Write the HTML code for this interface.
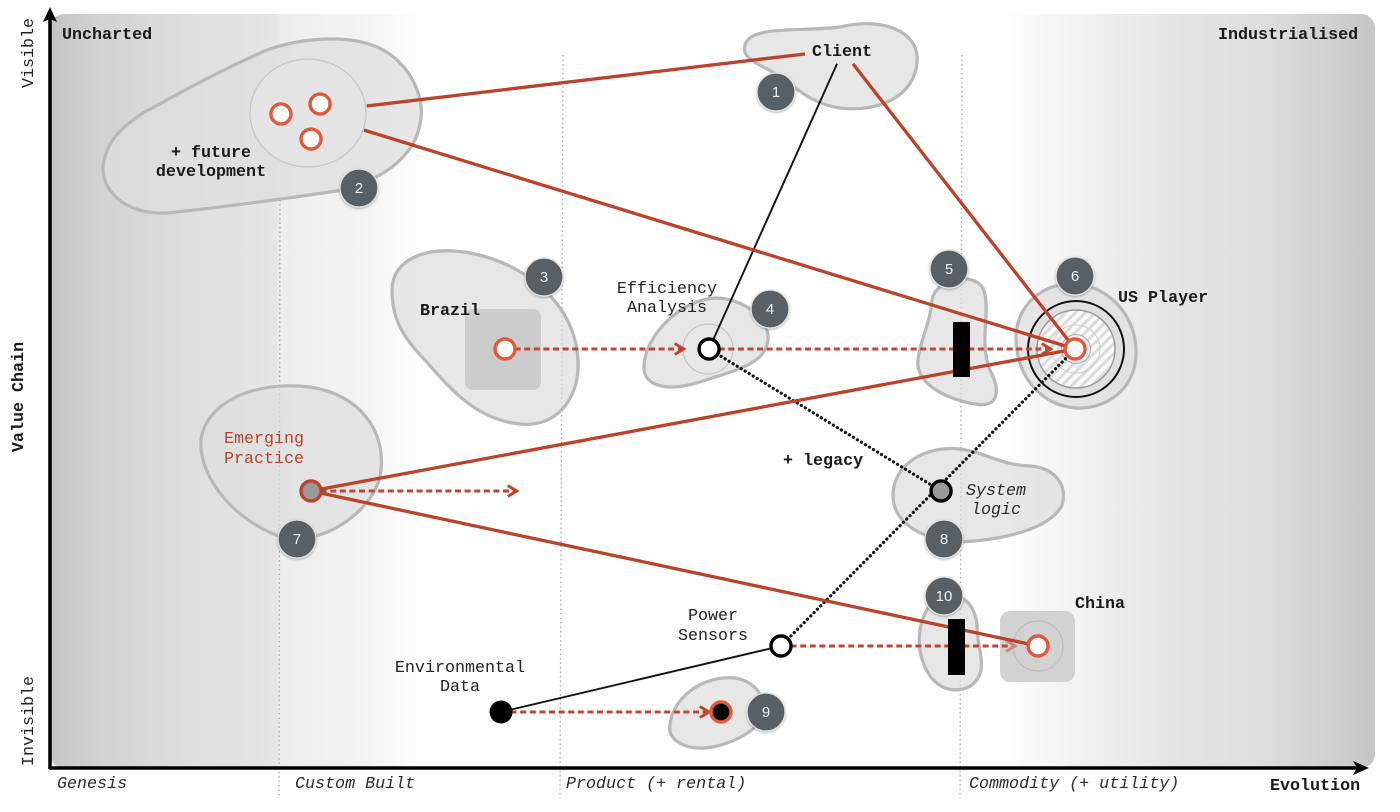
<!DOCTYPE html>
<html lang="en">
<head>
<meta charset="utf-8">
<title>Value chain map</title>
<style>
html,body{margin:0;padding:0;background:#fff;width:1400px;height:812px;overflow:hidden}
svg{display:block;filter:blur(.3px)}
text{font-family:"Liberation Mono",monospace;font-size:16.7px;fill:#222}
.b{font-weight:bold;fill:#1a1a1a}
.i{font-style:italic;fill:#2a2a2a}
.m{text-anchor:middle}
.blob{fill:rgba(222,222,222,.72);stroke:#b8b8b8;stroke-width:3.2}
.badge-t{fill:#eee;font-family:"Liberation Sans",sans-serif;font-size:15px;text-anchor:middle}
</style>
</head>
<body>
<svg id="map" width="1400" height="812" viewBox="0 0 1400 812" xmlns="http://www.w3.org/2000/svg">
<defs>
<linearGradient id="bgGrad" gradientUnits="userSpaceOnUse" x1="50" y1="0" x2="1375" y2="0">
<stop offset="0" stop-color="#c4c4c4"/>
<stop offset=".04" stop-color="#d3d3d3"/>
<stop offset=".11" stop-color="#dfdfdf"/>
<stop offset=".17" stop-color="#e6e6e6"/>
<stop offset=".175" stop-color="#eeeeee"/>
<stop offset=".235" stop-color="#f3f3f3"/>
<stop offset=".28" stop-color="#fefefe"/>
<stop offset=".715" stop-color="#ffffff"/>
<stop offset=".76" stop-color="#f5f5f5"/>
<stop offset=".84" stop-color="#e6e6e6"/>
<stop offset=".92" stop-color="#dddddd"/>
<stop offset="1" stop-color="#c6c6c6"/>
</linearGradient>
<pattern id="hatch" width="7" height="7" patternUnits="userSpaceOnUse" patternTransform="rotate(45)">
<rect width="7" height="7" fill="#fafafa"/>
<rect width="3" height="7" fill="#dcdcdc"/>
</pattern>
<filter id="shadow" x="-30%" y="-30%" width="160%" height="160%">
<feDropShadow dx="0" dy="1" stdDeviation="1.2" flood-color="#000" flood-opacity=".3"/>
</filter>
<marker id="arrow" markerUnits="userSpaceOnUse" markerWidth="14" markerHeight="16" refX="11" refY="7" orient="auto">
<path d="M1 1.5 L10 7 L1 12.5" fill="none" stroke="#c0472f" stroke-width="3"/>
</marker>
<marker id="arrowFaded" markerUnits="userSpaceOnUse" markerWidth="14" markerHeight="16" refX="11" refY="7" orient="auto">
<path d="M1 1.5 L10 7 L1 12.5" fill="none" stroke="#c98d7e" stroke-width="3"/>
</marker>
</defs>

<rect x="50" y="14" width="1325" height="754" rx="14" fill="url(#bgGrad)"/>

<g stroke="#a8a8a8" stroke-width="1.3" stroke-dasharray="1.5 3">
<line x1="280" y1="200" x2="279" y2="798"/>
<line x1="563" y1="55" x2="560" y2="798"/>
<line x1="962" y1="55" x2="960" y2="798"/>
</g>

<g>
<path class="blob" d="M745 45 C750 25 800 32 840 27 C880 17 920 30 917 62 C915 95 880 113 840 108 C805 103 790 80 765 68 C750 60 742 55 745 45Z"/>
<path class="blob" d="M103 168 C105 140 125 125 143 113 C185 90 225 68 267 50 C290 42 310 39 333 39 C370 39 390 52 400 63 C415 78 423 100 421 118 C418 140 410 150 400 160 C385 175 365 183 343 190 C290 198 225 207 167 213 C130 215 103 195 103 168Z"/>
<path class="blob" d="M392 290 C392 260 425 245 470 253 C520 262 575 300 578 360 C580 400 555 428 520 424 C480 420 455 395 425 360 C400 335 392 315 392 290Z"/>
<path class="blob" d="M644 365 C646 335 680 300 715 298 C745 298 770 320 768 340 C765 365 735 370 700 382 C665 393 642 385 644 365Z"/>
<path class="blob" d="M932 300 C935 280 970 270 983 288 C992 310 978 340 990 370 C1003 395 995 408 975 404 C950 400 915 385 918 360 C920 340 930 325 932 300Z"/>
<path class="blob" d="M1016 335 C1018 300 1050 278 1085 285 C1120 295 1137 325 1136 355 C1135 390 1105 410 1075 408 C1040 405 1015 375 1016 335Z"/>
<path class="blob" d="M201 440 C205 405 250 380 310 387 C360 395 385 430 381 470 C378 505 330 545 285 538 C240 525 198 480 201 440Z"/>
<path class="blob" d="M893 495 C893 465 925 445 960 449 C985 452 1000 465 1030 466 C1055 468 1068 485 1062 505 C1050 530 1000 540 960 542 C925 540 893 525 893 495Z"/>
<path class="blob" d="M670 725 C672 700 700 675 735 678 C760 682 770 705 760 722 C745 740 710 752 690 747 C675 743 668 735 670 725Z"/>
<path class="blob" d="M945 598 C965 590 976 610 977 625 C977 645 983 655 981 670 C977 688 960 693 945 688 C925 680 915 650 921 625 C925 610 930 600 945 598Z"/>
</g>

<g>
<ellipse cx="308" cy="113" rx="58" ry="54" fill="#e4e4e4" stroke="#c6c6c6" stroke-width="1.2"/>
<rect x="465" y="309" width="76" height="81" rx="8" fill="#cccccc"/>
<rect x="1000" y="611" width="75" height="71" rx="10" fill="#d2d2d2"/>
<circle cx="1038" cy="646" r="25" fill="none" stroke="#bdbdbd" stroke-width="1.2"/>
<circle cx="708" cy="349" r="25" fill="none" stroke="#c6c6c6" stroke-width="1.2"/>
<circle cx="1076" cy="349" r="48" fill="#e0e0e0" stroke="#111" stroke-width="2"/>
<circle cx="1076" cy="349" r="39" fill="url(#hatch)" stroke="#999" stroke-width="1.5"/>
<circle cx="1076" cy="349" r="24" fill="none" stroke="#cfcfcf" stroke-width="1"/>
<circle cx="1076" cy="349" r="14.5" fill="#f2f2f2" stroke="#aaa" stroke-width="1"/>
</g>

<g id="links"></g>

<rect x="953" y="322" width="17" height="55" fill="#000"/>
<rect x="948" y="619" width="17" height="56" fill="#000"/>

<g id="nodes"></g>

<g>
<line x1="50" y1="769" x2="50" y2="18" stroke="#000" stroke-width="3.5"/>
<path d="M50 7 L57 22 L50 19 L43 22Z" fill="#000"/>
<line x1="49" y1="768" x2="1358" y2="768" stroke="#000" stroke-width="3.5"/>
<path d="M1369 768 L1353 775 L1357 768 L1353 761Z" fill="#000"/>
</g>

<g>
<g><circle cx="776" cy="92" r="19" fill="#595e65" stroke="#e2e2e2" stroke-width="1.3" filter="url(#shadow)"/><text class="badge-t" x="776" y="97">1</text></g>
<g><circle cx="359" cy="188" r="19" fill="#595e65" stroke="#e2e2e2" stroke-width="1.3" filter="url(#shadow)"/><text class="badge-t" x="359" y="193">2</text></g>
<g><circle cx="544" cy="277" r="19" fill="#595e65" stroke="#e2e2e2" stroke-width="1.3" filter="url(#shadow)"/><text class="badge-t" x="544" y="282">3</text></g>
<g><circle cx="770" cy="309" r="19" fill="#595e65" stroke="#e2e2e2" stroke-width="1.3" filter="url(#shadow)"/><text class="badge-t" x="770" y="314">4</text></g>
<g><circle cx="949" cy="269" r="19" fill="#595e65" stroke="#e2e2e2" stroke-width="1.3" filter="url(#shadow)"/><text class="badge-t" x="949" y="274">5</text></g>
<g><circle cx="1075" cy="276" r="19" fill="#595e65" stroke="#e2e2e2" stroke-width="1.3" filter="url(#shadow)"/><text class="badge-t" x="1075" y="281">6</text></g>
<g><circle cx="297" cy="539" r="19" fill="#595e65" stroke="#e2e2e2" stroke-width="1.3" filter="url(#shadow)"/><text class="badge-t" x="297" y="544">7</text></g>
<g><circle cx="944" cy="539" r="19" fill="#595e65" stroke="#e2e2e2" stroke-width="1.3" filter="url(#shadow)"/><text class="badge-t" x="944" y="544">8</text></g>
<g><circle cx="766" cy="712" r="19" fill="#595e65" stroke="#e2e2e2" stroke-width="1.3" filter="url(#shadow)"/><text class="badge-t" x="766" y="717">9</text></g>
<g><circle cx="944" cy="596" r="19" fill="#595e65" stroke="#e2e2e2" stroke-width="1.3" filter="url(#shadow)"/><text class="badge-t" x="944" y="601">10</text></g>
</g>

<g>
<text class="b" x="62" y="39">Uncharted</text>
<text class="b" x="1218" y="39">Industrialised</text>
<text class="b m" x="842" y="56">Client</text>
<text class="b m" x="211" y="157">+ future</text>
<text class="b m" x="211" y="176">development</text>
<text class="b" x="420" y="315">Brazil</text>
<text class="m" x="667" y="293">Efficiency</text>
<text class="m" x="667" y="312">Analysis</text>
<text class="b" x="1118" y="302">US Player</text>
<text class="m" x="264" y="443" style="fill:#b8432c">Emerging</text>
<text class="m" x="264" y="463" style="fill:#b8432c">Practice</text>
<text class="b" x="783" y="465">+ legacy</text>
<text class="i m" x="996" y="495">System</text>
<text class="i m" x="996" y="514">logic</text>
<text class="b" x="1075" y="608">China</text>
<text class="m" x="713" y="620">Power</text>
<text class="m" x="713" y="640">Sensors</text>
<text class="m" x="460" y="672">Environmental</text>
<text class="m" x="460" y="691">Data</text>
<text class="i" x="57" y="788">Genesis</text>
<text class="i" x="295" y="788">Custom Built</text>
<text class="i" x="566" y="788">Product (+ rental)</text>
<text class="i" x="969" y="788">Commodity (+ utility)</text>
<text class="b" x="1270" y="790">Evolution</text>
<text class="m" transform="translate(33 53) rotate(-90)">Visible</text>
<text class="b m" transform="translate(23 397) rotate(-90)">Value Chain</text>
<text class="m" transform="translate(33 721) rotate(-90)">Invisible</text>
</g>
</svg>

<script>
// Map components: evolution (0-100 along x axis) and visibility (0-100 along y axis)
const pointNames = ["clientLeft","clientRight","clientBottom","futureA","futureB","futureC","futureTopExit","futureLowExit","brazil","efficiency","usPlayer","usArrowEnd","system","emerging","emergingArrowEnd","power","environmental","node9","node9ArrowEnd","china","chinaArrowEnd","efficiencyArrowEnd"];
const pointEvolution = [56.98,60.6,59.4,17.43,20.38,19.70,23.9,23.7,34.34,49.74,77.36,75.6,67.25,19.70,35.3,55.17,34.04,50.64,49.8,74.57,72.9,47.9];
const pointVisibility = [94.7,93.4,93.4,86.74,88.06,83.42,87.8,84.6,55.57,55.57,55.57,55.57,36.74,36.74,36.74,16.18,7.43,7.43,7.43,16.18,16.18,55.57];

const solidLinks = [["futureTopExit","clientLeft"],["futureLowExit","usPlayer"],["clientRight","usPlayer"],["emerging","usPlayer"],["emerging","china"]];
const thinLinks = [["clientBottom","efficiency"],["environmental","power"]];
const dottedLinks = [["efficiency","system"],["power","usPlayer"]];
const dashedLinks = [["brazil","efficiencyArrowEnd"],["efficiency","usArrowEnd"],["emerging","emergingArrowEnd"],["environmental","node9ArrowEnd"]];
const fadedDashedLinks = [["power","chinaArrowEnd"]];

const openRedNodes = ["futureA","futureB","futureC","brazil","usPlayer","china"];
const openBlackNodes = ["efficiency","power"];
const greyNodes = ["system"];
const emergingNodes = ["emerging"];
const solidBlackNodes = ["environmental"];
const redRingBlackNodes = ["node9"];

const NS = "http://www.w3.org/2000/svg";
const xScale = v => 50 + v * 13.25;
const yScale = v => 768 - v * 7.54;
const px = name => xScale(pointEvolution[pointNames.indexOf(name)]);
const py = name => yScale(pointVisibility[pointNames.indexOf(name)]);
const linkLayer = document.getElementById("links");
const nodeLayer = document.getElementById("nodes");

function drawLink(pair, stroke, width, dash, cap, marker, kind) {
  const el = document.createElementNS(NS, "line");
  
  
  el.setAttribute("x1", px(pair[0]));
  el.setAttribute("y1", py(pair[0]));
  el.setAttribute("x2", px(pair[1]));
  el.setAttribute("y2", py(pair[1]));
  el.setAttribute("stroke", stroke);
  el.setAttribute("stroke-width", width);
  if (dash) el.setAttribute("stroke-dasharray", dash);
  if (cap) el.setAttribute("stroke-linecap", cap);
  if (marker) el.setAttribute("marker-end", marker);
  linkLayer.appendChild(el);
}
dottedLinks.forEach(p => drawLink(p, "#111", 3.2, "0.1 4.6", "round", null, "dotted-link"));
thinLinks.forEach(p => drawLink(p, "#111", 1.9, null, null, null, "thin-link"));
dashedLinks.forEach(p => drawLink(p, "#c0472f", 3, "6 3.6", null, "url(#arrow)", "dashed-link"));
fadedDashedLinks.forEach(p => drawLink(p, "#c0472f", 3, "6 3.6", null, "url(#arrowFaded)", "dashed-link"));
solidLinks.forEach(p => drawLink(p, "#b9432b", 3.3, null, null, null, "solid-link"));

function drawNode(name, r, fill, stroke, width) {
  const el = document.createElementNS(NS, "circle");
  
  
  el.setAttribute("cx", px(name));
  el.setAttribute("cy", py(name));
  el.setAttribute("r", r);
  el.setAttribute("fill", fill);
  el.setAttribute("stroke", stroke);
  el.setAttribute("stroke-width", width);
  nodeLayer.appendChild(el);
}
openRedNodes.forEach(n => drawNode(n, 10, "#ffffff", "#e2583a", 3.4));
openBlackNodes.forEach(n => drawNode(n, 10, "#ffffff", "#000000", 3.4));
greyNodes.forEach(n => drawNode(n, 10, "#999999", "#000000", 3.4));
emergingNodes.forEach(n => drawNode(n, 10, "#999999", "#b9432b", 3.4));
solidBlackNodes.forEach(n => drawNode(n, 11.5, "#000000", "#000000", 0));
redRingBlackNodes.forEach(n => drawNode(n, 10, "#000000", "#e2583a", 3.4));
</script>
</body>
</html>
